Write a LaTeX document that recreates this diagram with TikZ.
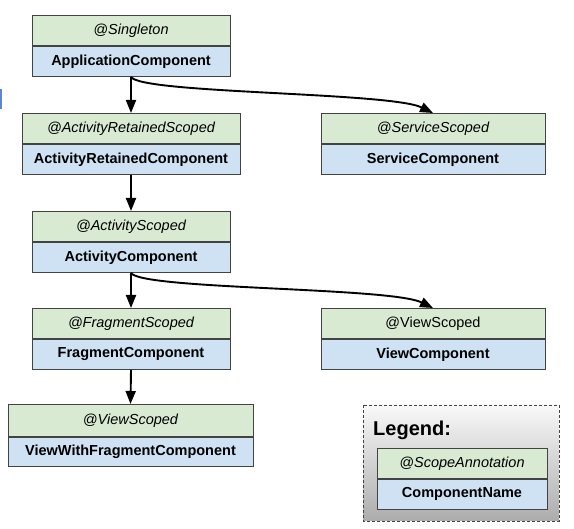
\documentclass[tikz,border=0pt]{standalone}
\usepackage{fontspec}
\setmainfont{Liberation Sans}
\usetikzlibrary{positioning,arrows.meta}

\definecolor{scopegreen}{HTML}{D9EAD3}
\definecolor{compblue}{HTML}{CFE2F3}
\definecolor{edgegray}{HTML}{434343}
\definecolor{markblue}{HTML}{5B86D0}

\tikzset{
  scope/.style={draw=edgegray, line width=0.9pt, fill=scopegreen, anchor=north,
    minimum height=30pt, inner sep=0pt, font=\fontsize{14.5}{16}\selectfont\itshape},
  comp/.style={draw=edgegray, line width=0.9pt, fill=compblue, below=0pt of #1,
    minimum height=30pt, inner sep=0pt, font=\fontsize{14.5}{16}\selectfont\bfseries},
  link/.style={line width=1.9pt, -{Triangle[length=13pt,width=10pt]}},
}

\begin{document}
\begin{tikzpicture}[x=1pt, y=-1pt]
    \useasboundingbox (0,0) rectangle (574,529);

    % stray mark at the left edge
    \fill[markblue] (0,89) rectangle (2,109);

    % Left column.
    \node[scope, minimum width=198pt] (appScope) at (131,15) {@Singleton};
    \node[comp=appScope, minimum width=198pt] (appComp) {ApplicationComponent};

    \node[scope, minimum width=218pt] (retScope) at (131,113) {@ActivityRetainedScoped};
    \node[comp=retScope, minimum width=218pt] (retComp) {ActivityRetainedComponent};

    \node[scope, minimum width=198pt] (actScope) at (131,211) {@ActivityScoped};
    \node[comp=actScope, minimum width=198pt] (actComp) {ActivityComponent};

    \node[scope, minimum width=198pt] (fragScope) at (131,308) {@FragmentScoped};
    \node[comp=fragScope, minimum width=198pt] (fragComp) {FragmentComponent};

    \node[scope, minimum width=245pt, minimum height=32pt] (vwfScope) at (130.5,404) {@ViewScoped};
    \node[comp=vwfScope, minimum width=245pt, minimum height=29pt] (vwfComp) {ViewWithFragmentComponent};

    % Right column.
    \node[scope, minimum width=224pt] (svcScope) at (433,113) {@ServiceScoped};
    \node[comp=svcScope, minimum width=224pt] (svcComp) {ServiceComponent};

    \node[scope, minimum width=224pt, font=\fontsize{14.5}{16}\selectfont] (viewScope) at (433,308) {@ViewScoped};
    \node[comp=viewScope, minimum width=224pt] (viewComp) {ViewComponent};

    % Straight links.
    \draw[link] (appComp.south) -- (retScope.north);
    \draw[link] (retComp.south) -- (actScope.north);
    \draw[link] (actComp.south) -- (fragScope.north);
    \draw[link] (fragComp.south) -- (vwfScope.north);

    % Curved links to the right column.
    \draw[link] (appComp.south) .. controls +(9,17) and +(-43,-21) .. (svcScope.north);
    \draw[link] (actComp.south) .. controls +(9,17) and +(-43,-21) .. (viewScope.north);

    % Legend.
    \shade[top color=gray!5, bottom color=gray!65] (363,405) rectangle (559,521);
    \draw[edgegray, line width=0.9pt, dash pattern=on 3pt off 2pt] (363,405) rectangle (559,521);
    \node[anchor=west, font=\fontsize{20}{22}\selectfont\bfseries, inner sep=0pt] (legendTitle) at (373,430) {Legend:};
    \node[scope, minimum width=170pt] (keyScope) at (462,448) {@ScopeAnnotation};
    \node[comp=keyScope, minimum width=170pt] (keyComp) {ComponentName};
\end{tikzpicture}
\end{document}
